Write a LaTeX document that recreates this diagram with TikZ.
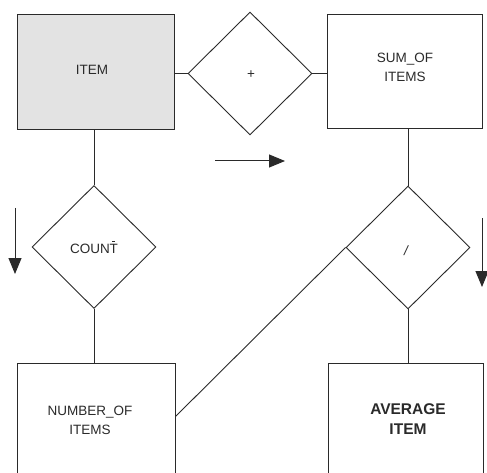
\documentclass[tikz,border=0pt]{standalone}
\usepackage{fontspec}
\setmainfont{Liberation Sans}
\usetikzlibrary{shapes.geometric,arrows.meta,calc}
\definecolor{ink}{HTML}{2A2A2A}
\tikzset{
  entity/.style={draw=ink, line width=0.9pt, rectangle, inner sep=0pt},
  relation/.style={draw=ink, line width=0.9pt, diamond, aspect=1, inner sep=0pt,
                   minimum width=124pt, minimum height=123pt},
  link/.style={draw=ink, line width=0.9pt},
  flow/.style={draw=ink, line width=1pt, -{Triangle[length=16pt,width=13pt]}},
  lbl/.style={font=\fontsize{13.5}{19}\selectfont, text=ink, align=center, inner sep=0pt},
  blbl/.style={font=\fontsize{15.5}{20}\selectfont\bfseries, text=ink, align=center, inner sep=0pt}
}
\begin{document}
\begin{tikzpicture}[x=1pt,y=-1pt]
  \useasboundingbox (0,0) rectangle (487,473);
  \clip (0,0) rectangle (487,473);
  \fill[white] (0,0) rectangle (487,473);

  % entities
  \node[entity, fill=black!11, minimum width=157pt, minimum height=115pt] (item) at (95.5,71.5) {};
  \node[entity, minimum width=155pt, minimum height=114pt] (sum) at (404.5,71) {};
  \node[entity, minimum width=158pt, minimum height=130pt] (num) at (96,428) {};
  \node[entity, minimum width=155pt, minimum height=130pt] (avg) at (405.5,428) {};

  % relationships
  \node[relation] (plus) at (250,73.5) {};
  \node[relation] (count) at (94,247) {};
  \node[relation] (div) at (408,247.5) {};

  % labels
  \node[lbl] (itemtxt) at (92,70) {ITEM};
  \node[lbl] (sumtxt) at (405,67) {SUM\_OF\\ITEMS};
  \node[lbl] (numtxt) at (90,420) {NUMBER\_OF\\ITEMS};
  \node[blbl] (avgtxt) at (408,419) {AVERAGE\\ITEM};
  \node[lbl] (counttxt) at (94,249) {COUNT};
  \draw[ink, line width=0.6pt] ($(counttxt.north east)+(-3.5,-3)$) -- ++(-3,0);
  \node[lbl] (plustxt) at (251,75) {+};
  \node[lbl, font=\fontsize{13.5}{15}\selectfont\itshape] (divtxt) at (406,251) {/};

  % connectors
  \draw[link] (plus.west) -- (plus.west -| item.east);
  \draw[link] (plus.east) -- (plus.east -| sum.west);
  \draw[link] (count.north) -- (count.north |- item.south);
  \draw[link] (count.south) -- (count.south |- num.north);
  \draw[link] (div.north) -- (div.north |- sum.south);
  \draw[link] (div.south) -- (div.south |- avg.north);
  \coordinate (numport) at ($(num.north east)+(0,54)$);
  \draw[link] (numport) -- (div.west);

  % direction arrows
  \coordinate (ra) at (215,161);
  \coordinate (rb) at (285,161);
  \draw[flow] (ra) -- (rb);
  \coordinate (la) at (15,208);
  \coordinate (lb) at (15,274);
  \draw[flow] (la) -- (lb);
  \coordinate (ka) at (482,218);
  \coordinate (kb) at (482,287);
  \draw[flow] (ka) -- (kb);
\end{tikzpicture}
\end{document}
